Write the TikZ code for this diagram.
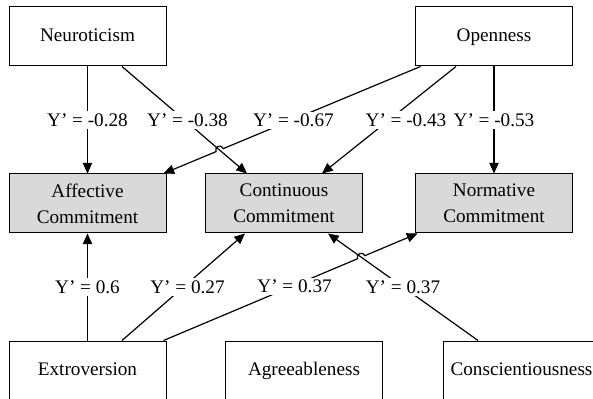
\documentclass[tikz,border=0pt]{standalone}
\usepackage{fontspec}
\setmainfont{Liberation Serif}
\usetikzlibrary{arrows.meta,calc,intersections}
\definecolor{boxgray}{RGB}{217,217,217}
\tikzset{
  trait/.style={draw, line width=0.75pt, minimum width=117.75pt, minimum height=44.25pt, inner sep=0pt, text height=0.68em, text depth=0pt},
  commit/.style={draw, line width=0.75pt, fill=boxgray, minimum width=117.75pt, minimum height=44.25pt, inner sep=0pt, align=center},
  conn/.style={line width=0.9pt, -{Triangle[length=8pt,width=7pt]}},
  wt/.style={fill=white, inner sep=1.5pt}
}
\begin{document}
\begin{tikzpicture}[x=0.75pt,y=0.75pt,yscale=-1,xscale=1,font=\fontsize{14.4}{19.5}\selectfont]
\useasboundingbox (0,0) rectangle (593,399);
\clip (0,0) rectangle (593,399);

%Shape: Rectangle [traits]
\node[trait] (neuro) at (87.5,36.5) {Neuroticism};
\node[trait] (open) at (494,36.5) {Openness};
\node[trait] (extro) at (87.5,370.5) {Extroversion};
\node[trait] (agree) at (304,370.5) {Agreeableness};
\node[trait] (consc) at (521.5,370.5) {Conscientiousness};
%Shape: Rectangle [commitment]
\node[commit] (aff) at (87.5,203.5) {Affective\\Commitment};
\node[commit] (cont) at (284,203.5) {Continuous\\Commitment};
\node[commit] (norm) at (494,203.5) {Normative\\Commitment};

% end points
\coordinate (nc1) at ($(neuro.south)+(34.5,0)$);
\coordinate (nc2) at ($(cont.north)+(-37,0)$);
\coordinate (oa1) at ($(open.south west)+(5.5,0)$);
\coordinate (oa2) at ($(aff.north east)+(-3,0)$);
\coordinate (oc1) at ($(open.south)+(-38,0)$);
\coordinate (oc2) at ($(cont.north)+(38,0)$);
\coordinate (ec1) at ($(extro.north)+(34.5,0)$);
\coordinate (ec2) at ($(cont.south)+(-39,0)$);
\coordinate (en1) at ($(extro.north east)+(-3,0)$);
\coordinate (en2) at ($(norm.south west)+(2.5,0)$);
\coordinate (cc1) at ($(consc.north)+(-43.5,0)$);
\coordinate (cc2) at ($(cont.south)+(44,0)$);

% top paths
\draw[conn] (neuro) -- node[wt]{Y’ = -0.28} (aff);
\draw[conn, name path=nc] (nc1) -- node[wt, xshift=2.25pt]{Y’ = -0.38} (nc2);
\path[name path=oa] (oa1) -- (oa2);
\path[name intersections={of=nc and oa, by=h1}];
\draw[conn] (oa1) -- node[wt, pos=0.66, xshift=2.25pt]{Y’ = -0.67} ($(h1)!3pt!(oa1)$) to[bend left=90, looseness=1.7] ($(h1)!3pt!(oa2)$) -- (oa2);
\draw[conn] (oc1) -- node[wt, xshift=12.75pt]{Y’ = -0.43} (oc2);
\draw[conn] (open) -- node[wt]{Y’ = -0.53} (norm);

% bottom paths
\draw[conn] (extro) -- node[wt]{Y’ = 0.6} (aff);
\draw[conn] (ec1) -- node[wt, xshift=3pt]{Y’ = 0.27} (ec2);
\draw[conn, name path=cc] (cc1) -- node[wt]{Y’ = 0.37} (cc2);
\path[name path=en] (en1) -- (en2);
\path[name intersections={of=cc and en, by=h2}];
\draw[conn] (en1) -- node[wt, pos=0.66, xshift=2.25pt]{Y’ = 0.37} ($(h2)!3pt!(en1)$) to[bend right=90, looseness=1.7] ($(h2)!3pt!(en2)$) -- (en2);
\end{tikzpicture}
\end{document}
